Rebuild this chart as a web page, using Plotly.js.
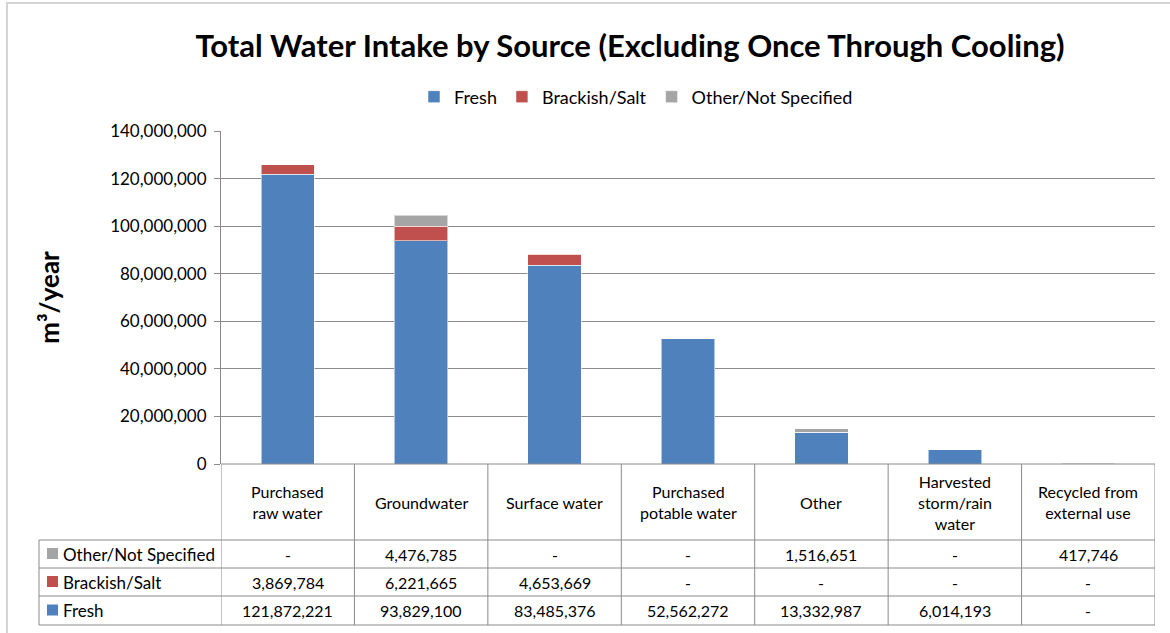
<!DOCTYPE html>
<html>
<head>
<meta charset="utf-8">
<script src="https://cdn.plot.ly/plotly-3.0.1.min.js"></script>
<style>html,body{margin:0;padding:0;background:#fff;}#chart{width:1170px;height:633px;}</style>
</head>
<body>
<div id="chart"></div>
<script>
// ---- data ----
const categories = ["Purchased raw water", "Groundwater", "Surface water", "Purchased potable water", "Other", "Harvested storm/rain water", "Recycled from external use"];
const headerLabels = ["Purchased<br>raw water", "Groundwater", "Surface water", "Purchased<br>potable water", "Other", "Harvested<br>storm/rain<br>water", "Recycled from<br>external use"];
const seriesNames = ["Fresh", "Brackish/Salt", "Other/Not Specified"];
const fresh = [121872221, 93829100, 83485376, 52562272, 13332987, 6014193, 0];
const brackish = [3869784, 6221665, 4653669, 0, 0, 0, 0];
const otherNS = [0, 4476785, 0, 0, 1516651, 0, 417746];
const yTicks = [0, 20000000, 40000000, 60000000, 80000000, 100000000, 120000000, 140000000];

// ---- styling / layout helpers ----
const W = 1170, H = 633;
const colors = ["#4F81BD", "#C0504D", "#A5A5A5"];
const FONT = "Lato, 'Open Sans', sans-serif";
const lineCol = "#8a8a8a";
const px = x => x / W;
const py = y => 1 - y / H;

const xIdx = categories.map((c, i) => i);
const seriesVals = [fresh, brackish, otherNS];

const traces = seriesVals.map((vals, k) => ({
  type: "bar",
  name: seriesNames[k],
  x: xIdx,
  y: vals,
  marker: {color: colors[k], line: {color: "rgba(255,255,255,0.55)", width: 1}},
  hoverinfo: "skip"
}));

const plotL = 221, plotR = 1155, plotT = 131, plotB = 464;
const rowLines = [540, 568, 596, 625];
const tableLeft = 39;
const TFS = 16;

const shapes = [];
const annotations = [];

// outer chart border
shapes.push({type: "rect", xref: "paper", yref: "paper", x0: px(7), x1: px(1180), y0: py(3), y1: py(645),
  line: {color: "#d4d4d4", width: 2}, fillcolor: "rgba(0,0,0,0)"});

// table horizontal lines
shapes.push({type: "line", xref: "paper", yref: "paper", x0: px(plotL), x1: px(plotR), y0: py(plotB), y1: py(plotB), line: {color: lineCol, width: 1}});
rowLines.forEach(yy => shapes.push({type: "line", xref: "paper", yref: "paper", x0: px(tableLeft), x1: px(plotR), y0: py(yy), y1: py(yy), line: {color: lineCol, width: 1}}));
// label column left edge
shapes.push({type: "line", xref: "paper", yref: "paper", x0: px(tableLeft), x1: px(tableLeft), y0: py(rowLines[0]), y1: py(rowLines[3]), line: {color: lineCol, width: 1}});
// category column boundaries
for (let i = 0; i <= categories.length; i++) {
  shapes.push({type: "line", xref: "x", yref: "paper", x0: i - 0.5, x1: i - 0.5, y0: py(plotB), y1: py(rowLines[3]), line: {color: lineCol, width: 1}});
}

// header labels
headerLabels.forEach((t, i) => annotations.push({xref: "x", yref: "paper", x: i, y: py(502), text: t, showarrow: false,
  xanchor: "center", yanchor: "middle", align: "center", font: {family: FONT, size: TFS, color: "#000"}}));

// rows (top to bottom: Other, Brackish, Fresh)
const rowOrder = [2, 1, 0];
const fmt = v => v ? v.toLocaleString("en-US") : "-";
rowOrder.forEach((k, r) => {
  const yTop = rowLines[r], yBot = rowLines[r + 1];
  const yc = (yTop + yBot) / 2;
  shapes.push({type: "rect", xref: "paper", yref: "paper", x0: px(47), x1: px(58), y0: py(yc - 6), y1: py(yc + 5),
    line: {width: 0}, fillcolor: colors[k]});
  annotations.push({xref: "paper", yref: "paper", x: px(61), y: py(yc), text: seriesNames[k], showarrow: false,
    xanchor: "left", yanchor: "middle", font: {family: FONT, size: 17, color: "#000"}});
  seriesVals[k].forEach((v, i) => annotations.push({xref: "x", yref: "paper", x: i, y: py(yc), text: fmt(v), showarrow: false,
    xanchor: "center", yanchor: "middle", font: {family: FONT, size: TFS, color: "#000"}}));
});

const layout = {
  width: W, height: H,
  margin: {l: 0, r: 0, t: 0, b: 0},
  paper_bgcolor: "#fff", plot_bgcolor: "#fff",
  barmode: "stack",
  bargap: 0.6,
  font: {family: FONT, color: "#000"},
  title: {text: "<b>Total Water Intake by Source (Excluding Once Through Cooling)</b>", x: px(630), xanchor: "center",
    y: py(46), yanchor: "middle", xref: "paper", yref: "paper", font: {family: FONT, size: 31, color: "#000"}},
  showlegend: true,
  legend: {orientation: "h", x: px(636), xanchor: "center", y: py(97), yanchor: "middle", traceorder: "normal",
    font: {family: FONT, size: 18, color: "#000"}, itemwidth: 30},
  xaxis: {domain: [px(plotL), px(plotR)], range: [-0.5, categories.length - 0.5], showticklabels: false, ticks: "",
    showgrid: false, zeroline: false, showline: false, fixedrange: true},
  yaxis: {domain: [py(plotB), py(plotT)], range: [0, 140000000], tickvals: yTicks, tickformat: ",d",
    ticks: "outside", ticklen: 6, tickcolor: lineCol, showline: true, linecolor: lineCol, linewidth: 1,
    ticklabelstandoff: 4,
    showgrid: true, gridcolor: "#8c8c8c", gridwidth: 1, zeroline: false,
    tickfont: {family: FONT, size: 17, color: "#000"}, fixedrange: true,
    title: {text: "<b>m³/year</b>", font: {family: FONT, size: 26, color: "#000"}, standoff: 43}},
  shapes: shapes,
  annotations: annotations
};

Plotly.newPlot("chart", traces, layout, {displayModeBar: false, staticPlot: true});
</script>
</body>
</html>
